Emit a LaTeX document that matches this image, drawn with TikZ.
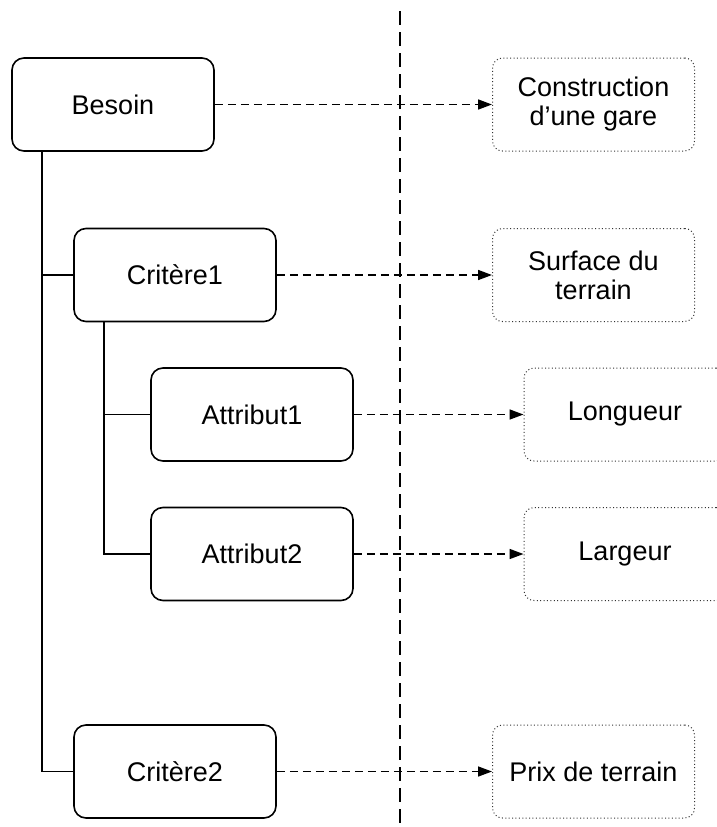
\documentclass[tikz,border=0pt]{standalone}
\usepackage{fontspec}
\setmainfont{Liberation Sans}
\usetikzlibrary{arrows.meta}
\begin{document}
\begin{tikzpicture}[x=1pt,y=-1pt,
  box/.style={draw=black, line width=1.6pt, rounded corners=12pt, minimum width=202pt, minimum height=93pt,
    font=\fontsize{27}{29}\selectfont, inner sep=0pt, align=center},
  valbox/.style={draw=black!80, line width=1pt, dash pattern=on 1pt off 2.4pt, rounded corners=10pt,
    minimum width=202pt, minimum height=93pt, font=\fontsize{27}{29}\selectfont, inner sep=0pt, align=center},
  treeline/.style={draw=black, line width=1.6pt},
  maparrow/.style={draw=black, line width=1.6pt, dash pattern=on 8pt off 5pt, -{Triangle[length=14pt,width=10pt]}},
  sepline/.style={draw=black, line width=1.6pt, dash pattern=on 14pt off 7pt}]
\useasboundingbox (0,0) rectangle (717,827);
\clip (0,0) rectangle (717,827);

\node[box] (besoin) at (113,104.5) {Besoin};
\node[box] (c1) at (175,275) {Critère1};
\node[box] (a1) at (252,414.5) {Attribut1};
\node[box] (a2) at (252,554) {Attribut2};
\node[box] (c2) at (175,771.5) {Critère2};

\node[valbox] (v1) at (593.5,104.5) {Construction\\d’une gare};
\node[valbox] (v2) at (593.5,275) {Surface du\\terrain};
\node[valbox] (v3) at (625,414.5) {Longueur};
\node[valbox] (v4) at (625,554) {Largeur};
\node[valbox] (v5) at (593.5,771.5) {Prix de terrain};

\coordinate (vtop) at (400,11);
\coordinate (vbot) at (400,827);
\draw[sepline] (vtop) -- (vbot);

\draw[treeline] ([xshift=31pt]besoin.south west) |- (c2.west);
\draw[treeline] (c1.west) -- ++(-31,0);
\draw[treeline] ([xshift=31pt]c1.south west) |- (a2.west);
\draw[treeline] (a1.west) -- ++(-46,0);

\draw[maparrow] (besoin.east) -- (v1.west);
\draw[maparrow] (c1.east) -- (v2.west);
\draw[maparrow] (a1.east) -- (v3.west);
\draw[maparrow] (a2.east) -- (v4.west);
\draw[maparrow] (c2.east) -- (v5.west);
\end{tikzpicture}
\end{document}
